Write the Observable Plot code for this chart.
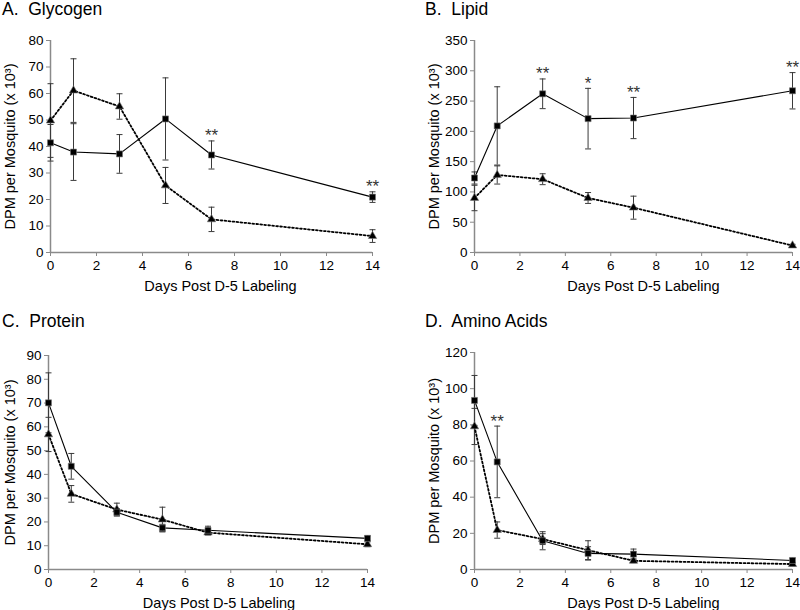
<!DOCTYPE html>
<html><head><meta charset="utf-8">
<script src="https://cdn.jsdelivr.net/npm/d3@7"></script>
<script src="https://cdn.jsdelivr.net/npm/@observablehq/plot@0.6"></script>
<style>
body{margin:0;background:#fff;font-family:"Liberation Sans",Arial,Helvetica,sans-serif;}
#wrap{position:relative;width:800px;height:610px;overflow:hidden;}
.panel{position:absolute;}
.title{position:absolute;font-size:17.5px;line-height:20px;color:#000;white-space:pre;}
</style></head><body><div id="wrap"></div>
<script>
// ---- data ----
const days = [0, 1, 3, 5, 7, 14];
const dayTicks = [0, 2, 4, 6, 8, 10, 12, 14];
const yLabel = "DPM per Mosquito (x 10³)";
const xLabel = "Days Post D-5 Labeling";
const panelTitles = ["A.  Glycogen", "B.  Lipid", "C.  Protein", "D.  Amino Acids"];

const glycogenTicks = [0, 10, 20, 30, 40, 50, 60, 70, 80];
const glycogenSquare = [41.4, 37.9, 37.2, 50.4, 36.8, 20.9];
const glycogenSquareErr = [6.9, 10.7, 7.3, 15.5, 5.3, 2.0];
const glycogenTriangle = [49.8, 61.1, 55.1, 25.3, 12.5, 6.2];
const glycogenTriangleErr = [13.9, 12.0, 4.8, 6.8, 4.6, 2.4];
const glycogenStars = ["", "", "", "", "**", "**"];

const lipidTicks = [0, 50, 100, 150, 200, 250, 300, 350];
const lipidSquare = [123, 209, 262, 221, 222, 267];
const lipidSquareErr = [10, 64.6, 24.5, 50, 34, 30];
const lipidTriangle = [90, 128, 121, 90, 74, 11.5];
const lipidTriangleErr = [21, 15, 9, 9, 19, 2];
const lipidStars = ["", "", "**", "*", "**", "**"];

const proteinTicks = [0, 10, 20, 30, 40, 50, 60, 70, 80, 90];
const proteinSquare = [70.1, 43.4, 24.1, 17.5, 16.5, 13.1];
const proteinSquareErr = [12.6, 5.4, 1.5, 1.5, 1.7, 1.0];
const proteinTriangle = [56.8, 31.8, 25.2, 21.0, 15.5, 10.6];
const proteinTriangleErr = [7.2, 3.5, 2.7, 5.2, 1.0, 1.0];
const proteinStars = ["", "", "", "", "", ""];

const aminoTicks = [0, 20, 40, 60, 80, 100, 120];
const aminoSquare = [93.5, 59.5, 15.9, 8.9, 8.5, 5.0];
const aminoSquareErr = [13.8, 19.8, 5.0, 3.7, 2.8, 1.2];
const aminoTriangle = [79.1, 21.8, 16.8, 10.7, 4.8, 3.0];
const aminoTriangleErr = [10, 4.5, 3.0, 5.2, 1.0, 1.0];
const aminoStars = ["", "**", "", "", "", ""];

// ---- layout ----
const panels = [
  {title: panelTitles[0], ticks: glycogenTicks, sq: glycogenSquare, sqE: glycogenSquareErr, tr: glycogenTriangle, trE: glycogenTriangleErr, stars: glycogenStars,
   left: 0, top: 20, width: 390, height: 280, mL: 50, mR: 18, mT: 20, mB: 48, tX: 2, tY: -1, yLabDx: -40, xLabDx: 9},
  {title: panelTitles[1], ticks: lipidTicks, sq: lipidSquare, sqE: lipidSquareErr, tr: lipidTriangle, trE: lipidTriangleErr, stars: lipidStars,
   left: 400, top: 20, width: 400, height: 280, mL: 74, mR: 8, mT: 20, mB: 48, tX: 425, tY: -1, yLabDx: -40, xLabDx: 10},
  {title: panelTitles[2], ticks: proteinTicks, sq: proteinSquare, sqE: proteinSquareErr, tr: proteinTriangle, trE: proteinTriangleErr, stars: proteinStars,
   left: 0, top: 320, width: 390, height: 290, mL: 48, mR: 23, mT: 35, mB: 41, tX: 2, tY: 311, yLabDx: -38, xLabDx: 11},
  {title: panelTitles[3], ticks: aminoTicks, sq: aminoSquare, sqE: aminoSquareErr, tr: aminoTriangle, trE: aminoTriangleErr, stars: aminoStars,
   left: 400, top: 320, width: 400, height: 290, mL: 74, mR: 8, mT: 32, mB: 41, tX: 425, tY: 311, yLabDx: -40, xLabDx: 10}
];

const axisGray = "#8a8a8a";
const barColor = "#3a3a3a";
const capSymbol = {draw(ctx) { ctx.moveTo(-3, 0); ctx.lineTo(3, 0); }};
const wrap = document.getElementById("wrap");

for (const p of panels) {
  const sqData = days.map((d, i) => ({day: d, v: p.sq[i], e: p.sqE[i], star: p.stars[i]}));
  const trData = days.map((d, i) => ({day: d, v: p.tr[i], e: p.trE[i]}));
  const ymax = p.ticks[p.ticks.length - 1];
  const chart = Plot.plot({
    width: p.width, height: p.height,
    marginLeft: p.mL, marginRight: p.mR, marginTop: p.mT, marginBottom: p.mB,
    style: {fontFamily: '"Liberation Sans", Arial, Helvetica, sans-serif', background: "white", color: "black", overflow: "visible"},
    x: {domain: [0, 14]},
    y: {domain: [0, ymax]},
    marks: [
      Plot.axisX({ticks: dayTicks, tickSize: 4, tickPadding: 4, stroke: axisGray, fill: "black", fontSize: 13.5, label: null}),
      Plot.axisY({ticks: p.ticks, tickSize: 4, tickPadding: 3, stroke: axisGray, fill: "black", fontSize: 13.5, label: null}),
      Plot.ruleY([0], {stroke: axisGray, strokeWidth: 1.5}),
      Plot.ruleX([0], {stroke: axisGray, strokeWidth: 1.5}),
      // error bars
      Plot.ruleX(trData, {x: "day", y1: d => d.v - d.e, y2: d => d.v + d.e, stroke: barColor, strokeWidth: 1}),
      Plot.ruleX(sqData, {x: "day", y1: d => d.v - d.e, y2: d => d.v + d.e, stroke: barColor, strokeWidth: 1}),
      Plot.dot(trData, {x: "day", y: d => d.v + d.e, symbol: capSymbol, stroke: barColor, fill: "none", strokeWidth: 1}),
      Plot.dot(trData, {x: "day", y: d => d.v - d.e, symbol: capSymbol, stroke: barColor, fill: "none", strokeWidth: 1}),
      Plot.dot(sqData, {x: "day", y: d => d.v + d.e, symbol: capSymbol, stroke: barColor, fill: "none", strokeWidth: 1}),
      Plot.dot(sqData, {x: "day", y: d => d.v - d.e, symbol: capSymbol, stroke: barColor, fill: "none", strokeWidth: 1}),
      // lines
      Plot.line(trData, {x: "day", y: "v", stroke: "black", strokeWidth: 1.8, strokeDasharray: "1.8,2.2"}),
      Plot.line(sqData, {x: "day", y: "v", stroke: "black", strokeWidth: 1.1}),
      // markers
      Plot.dot(trData, {x: "day", y: "v", symbol: "triangle", r: 3.1, fill: "black", stroke: "#777", strokeWidth: 0.6}),
      Plot.dot(sqData, {x: "day", y: "v", symbol: "square", r: 3.4, fill: "black", stroke: "#777", strokeWidth: 0.6}),
      // significance stars
      Plot.text(sqData.filter(d => d.star), {x: "day", y: d => d.v + d.e, text: "star", dy: -5, fontSize: 17, fill: "#333", lineAnchor: "middle"}),
      // axis titles
      Plot.text([xLabel], {text: d => d, frameAnchor: "bottom", textAnchor: "middle", dy: 33.5, dx: p.xLabDx, fontSize: 14.5, lineAnchor: "middle"}),
      Plot.text([yLabel], {text: d => d, frameAnchor: "left", textAnchor: "middle", rotate: -90, dx: p.yLabDx, fontSize: 14.5, lineAnchor: "middle"})
    ]
  });
  const box = document.createElement("div");
  box.className = "panel";
  box.style.left = p.left + "px";
  box.style.top = p.top + "px";
  box.appendChild(chart);
  wrap.appendChild(box);
  const t = document.createElement("div");
  t.className = "title";
  t.style.left = p.tX + "px";
  t.style.top = p.tY + "px";
  t.textContent = p.title;
  wrap.appendChild(t);
}
</script></body></html>
